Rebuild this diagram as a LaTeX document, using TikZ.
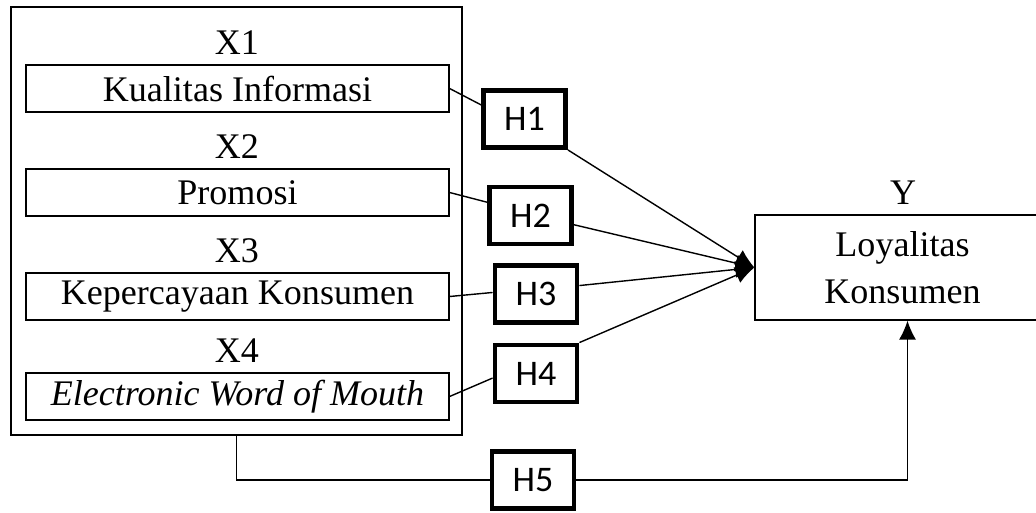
\documentclass[tikz,border=0pt]{standalone}
\usepackage{fontspec}
\setmainfont{Liberation Serif}
\newfontfamily\hfont{Carlito}
\usetikzlibrary{arrows.meta, positioning, calc}

\begin{document}
\begin{tikzpicture}[
    every node/.style={font=\fontsize{20.5}{26.6}\selectfont},
    varbox/.style={draw, line width=0.7pt, minimum width=8.46cm, minimum height=0.94cm, inner sep=0pt},
    hbox/.style={draw, line width=2.8pt, minimum width=1.64cm, minimum height=1.14cm, font=\hfont\fontsize{20.5}{24}\selectfont},
    link/.style={line width=0.8pt},
    arr/.style={line width=0.8pt, -{Latex[length=0.38cm, width=0.34cm]}}
  ]
  \useasboundingbox (0, 0) rectangle (20.72, 10.24);

  % independent variables
  \node[draw, line width=0.7pt, minimum width=9.02cm, minimum height=8.56cm] (outer) at (4.73, 5.82) {};
  \node (x1lab) at (4.74, 9.38) {X1};
  \node[varbox] (x1) at (4.75, 8.47) {Kualitas Informasi};
  \node (x2lab) at (4.74, 7.30) {X2};
  \node[varbox] (x2) at (4.75, 6.39) {Promosi};
  \node (x3lab) at (4.74, 5.22) {X3};
  \node[varbox] (x3) at (4.75, 4.31) {Kepercayaan Konsumen};
  \node (x4lab) at (4.74, 3.22) {X4};
  \node[varbox] (x4) at (4.75, 2.31) {\textit{Electronic Word of Mouth}};

  % dependent variable
  \node (ylab) at (18.06, 6.38) {Y};
  \node[draw, line width=0.7pt, minimum width=5.9cm, minimum height=2.1cm, align=center] (y) at (18.05, 4.89) {Loyalitas\\Konsumen};

  % hypotheses
  \node[hbox] (h1) at (10.49, 7.86) {H1};
  \node[hbox] (h2) at (10.61, 5.93) {H2};
  \node[hbox] (h3) at (10.72, 4.36) {H3};
  \node[hbox] (h4) at (10.72, 2.77) {H4};
  \node[hbox] (h5) at (10.66, 0.64) {H5};

  \draw[link] (x1.east) -- (h1.162);
  \draw[link] (x2.east) -- (h2.163);
  \draw[link] (x3.east) -- (h3.178);
  \draw[link] (x4.east) -- (h4.186);

  \draw[arr] (h1.south east) -- (y.west);
  \draw[arr] (h2.-12) -- (y.west);
  \draw[arr] (h3.11) -- (y.west);
  \draw[arr] (h4.north east) -- (y.west);

  \draw[link] (outer.south) |- (h5.west);
  \draw[arr] (h5.east) -| ($(y.south)+(0.1,0)$);
\end{tikzpicture}
\end{document}
